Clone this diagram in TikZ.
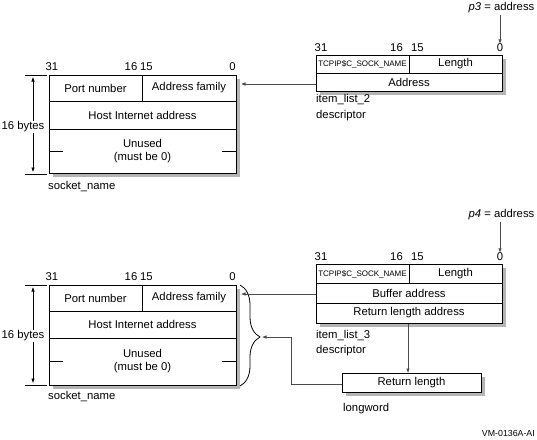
\documentclass[tikz,border=0pt]{standalone}
\usepackage{fontspec}
\setmainfont{Liberation Sans}
\usetikzlibrary{decorations.pathreplacing,arrows.meta,calc}
\definecolor{shadowgray}{RGB}{180,180,180}
\begin{document}
\begin{tikzpicture}[x=1pt,y=-1pt,
  box/.style={draw=black,line width=1.3pt,fill=white,inner sep=0pt,anchor=north west},
  shadowfill/.style={fill=shadowgray,draw=none,inner sep=0pt,anchor=north west},
  cell/.style={line width=0.6pt},
  lbl/.style={font=\fontsize{11.3}{13}\selectfont, inner sep=0pt},
  tinylbl/.style={font=\fontsize{8}{9}\selectfont, inner sep=0pt},
  conn/.style={draw=black!70,line width=0.6pt},
  arr/.style={conn,-{Latex[length=4.5pt,width=3.5pt]}},
  dim/.style={line width=0.6pt,{Latex[length=4.5pt,width=3.5pt]}-{Latex[length=4.5pt,width=3.5pt]}},
]
\useasboundingbox (0,0) rectangle (537,439);

% ---------- shadows ----------
\node[shadowfill,minimum width=187pt,minimum height=98pt] (s1sh) at (53,79) {};
\node[shadowfill,minimum width=186pt,minimum height=36pt] (d1sh) at (320,59) {};
\node[shadowfill,minimum width=187pt,minimum height=100pt] (s2sh) at (53,289) {};
\node[shadowfill,minimum width=186pt,minimum height=59pt] (d2sh) at (320,268) {};
\node[shadowfill,minimum width=139pt,minimum height=19pt] (rlsh) at (346,377) {};

% ---------- top socket_name ----------
\node[box,minimum width=187pt,minimum height=98pt] (s1) at (49,75) {};
\draw[cell] (49,101) -- (236,101) (49,129) -- (236,129) (142,75) -- (142,101);
\draw[cell] (49,151) -- (63,151) (222,151) -- (236,151);
\node[lbl] (s1port) at (95.5,88) {Port number};
\node[lbl] (s1fam) at (189,88) {Address family};
\node[lbl] (s1host) at (142.5,115) {Host Internet address};
\node[lbl,align=center] (s1un) at (142.5,151) {Unused\\(must be 0)};
\node[lbl] (s1h31) at (52,67) {31};
\node[lbl,anchor=east] (s1h16) at (137.5,67) {16};
\node[lbl,anchor=west] (s1h15) at (140,67) {15};
\node[lbl] (s1h0) at (232.5,67) {0};
\node[lbl,anchor=west] (s1name) at (48,187) {socket\_name};
\draw[cell] (25,75) -- (47,75) (25,174) -- (47,174);
\coordinate (s1t) at (33,77);
\coordinate (s1b) at (33,172);
\draw[dim] (s1t) -- (s1b);
\node[lbl,fill=white,inner sep=1pt] (s1bytes) at (23,127) {16 bytes};

% ---------- top descriptor ----------
\node[box,minimum width=186pt,minimum height=36pt] (d1) at (316,55) {};
\draw[cell] (316,73) -- (502,73) (409,55) -- (409,73);
\node[tinylbl] (d1code) at (362.5,64.5) {TCPIP\$C\_SOCK\_NAME};
\node[lbl] (d1len) at (455.5,64) {Length};
\node[lbl] (d1addr) at (409,82.5) {Address};
\node[lbl] (d1h31) at (321,48) {31};
\node[lbl,anchor=east] (d1h16) at (403,48) {16};
\node[lbl,anchor=west] (d1h15) at (411,48) {15};
\node[lbl] (d1h0) at (500,48) {0};
\node[lbl] (p3) at (501.5,8) {\textit{p3} = address};
\draw[arr] (p3.south -| d1h0) ++(0,2) -- (d1h0.north);
\node[lbl,anchor=west] (d1n1) at (316,100) {item\_list\_2};
\node[lbl,anchor=west] (d1n2) at (316,116) {descriptor};
\coordinate (s1in) at (241,84);
\draw[arr] (d1.west |- s1in) -- (s1in);

% ---------- bottom socket_name ----------
\node[box,minimum width=187pt,minimum height=100pt] (s2) at (49,285) {};
\draw[cell] (49,311) -- (236,311) (49,338) -- (236,338) (142,285) -- (142,311);
\draw[cell] (49,361) -- (63,361) (222,361) -- (236,361);
\node[lbl] (s2port) at (95.5,298) {Port number};
\node[lbl] (s2fam) at (189,298) {Address family};
\node[lbl] (s2host) at (142.5,324.5) {Host Internet address};
\node[lbl,align=center] (s2un) at (142.5,361.5) {Unused\\(must be 0)};
\node[lbl] (s2h31) at (52,277) {31};
\node[lbl,anchor=east] (s2h16) at (137.5,277) {16};
\node[lbl,anchor=west] (s2h15) at (140,277) {15};
\node[lbl] (s2h0) at (232.5,277) {0};
\node[lbl,anchor=west] (s2name) at (48,397) {socket\_name};
\draw[cell] (25,285) -- (47,285) (25,385) -- (47,385);
\coordinate (s2t) at (33,287);
\coordinate (s2b) at (33,383);
\draw[dim] (s2t) -- (s2b);
\node[lbl,fill=white,inner sep=1pt] (s2bytes) at (23,336) {16 bytes};
\coordinate (brt) at (240,285);
\coordinate (brb) at (240,386);
\draw[line width=0.8pt,decorate,decoration={brace,amplitude=20pt,aspect=0.515}] (brt) -- (brb);

% ---------- bottom descriptor ----------
\node[box,minimum width=186pt,minimum height=59pt] (d2) at (316,264) {};
\draw[cell] (316,283) -- (502,283) (316,303) -- (502,303) (409,264) -- (409,283);
\node[tinylbl] (d2code) at (362.5,274) {TCPIP\$C\_SOCK\_NAME};
\node[lbl] (d2len) at (455.5,273.5) {Length};
\node[lbl] (d2buf) at (409,293) {Buffer address};
\node[lbl] (d2ret) at (409,313) {Return length address};
\node[lbl] (d2h31) at (321,257) {31};
\node[lbl,anchor=east] (d2h16) at (403,257) {16};
\node[lbl,anchor=west] (d2h15) at (411,257) {15};
\node[lbl] (d2h0) at (500,257) {0};
\node[lbl] (p4) at (501.5,215) {\textit{p4} = address};
\draw[arr] (p4.south -| d2h0) ++(0,2) -- (d2h0.north);
\node[lbl,anchor=west] (d2n1) at (316,336) {item\_list\_3};
\node[lbl,anchor=west] (d2n2) at (316,351) {descriptor};
\coordinate (s2in) at (241,294);
\draw[arr] (d2.west |- s2in) -- (s2in);

% ---------- return length longword ----------
\node[box,minimum width=139pt,minimum height=19pt] (rl) at (342,373) {};
\node[lbl] (rltext) at (411.5,382.5) {Return length};
\node[lbl,anchor=west] (rlname) at (343,409) {longword};
\draw[arr] (d2.south -| 408,0) -- (rl.north -| 408,0);
\coordinate (brtip) at (262,337);
\draw[arr] (rl.west |- 0,384) -- (291,384) -- (291,337) -- (brtip);

\node[font=\fontsize{8.8}{10}\selectfont,inner sep=0pt,anchor=east] (fig) at (535,433) {VM-0136A-AI};
\end{tikzpicture}
\end{document}
